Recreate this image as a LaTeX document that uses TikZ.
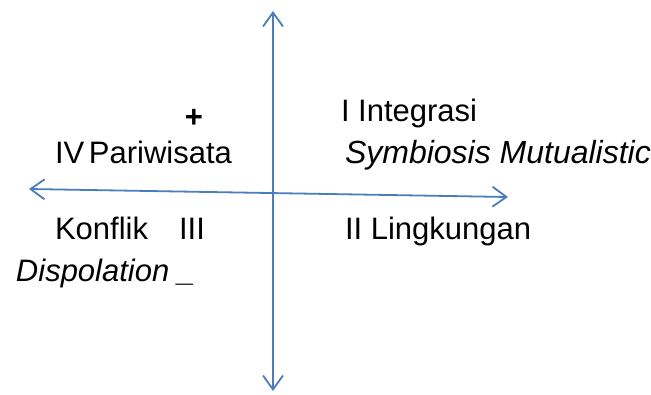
\documentclass[tikz,border=0pt]{standalone}
\usepackage{fontspec}
\setmainfont{Liberation Sans}
\usetikzlibrary{arrows.meta}
\definecolor{axisblue}{HTML}{4A7EBB}
\begin{document}
\begin{tikzpicture}[x=1pt,y=-1pt,
  axis/.style={draw=axisblue,line width=1.8pt,{Straight Barb[length=14pt,width=20pt,line width=1.8pt]}-{Straight Barb[length=14pt,width=20pt,line width=1.8pt]}},
  lbl/.style={anchor=base west,inner sep=0pt,outer sep=0pt,font=\fontsize{31}{37}\selectfont}
]
\useasboundingbox (0,0) rectangle (651,394);
\coordinate (top) at (273,11);
\coordinate (bottom) at (273,391);
\coordinate (left) at (29,189);
\coordinate (right) at (508,197);
\draw[axis] (bottom) -- (top);
\draw[axis] (left) -- (right);
\node[lbl,anchor=center,font=\fontsize{31}{37}\selectfont\bfseries] (plus) at (194,118) {+};
\node[lbl] (iv) at (55,163) {IV\hspace{0.15em}Pariwisata};
\node[lbl] (i) at (341,121) {I Integrasi};
\node[lbl,font=\fontsize{32}{38}\selectfont\itshape] (sym) at (345,163) {Symbiosis Mutualistic};
\node[lbl] (konf) at (55,239) {Konflik\hspace{1.0em}III};
\node[lbl,font=\fontsize{31}{37}\selectfont\itshape] (disp) at (16,281) {Dispolation \_};
\node[lbl] (ii) at (345,239) {II Lingkungan};
\end{tikzpicture}
\end{document}
